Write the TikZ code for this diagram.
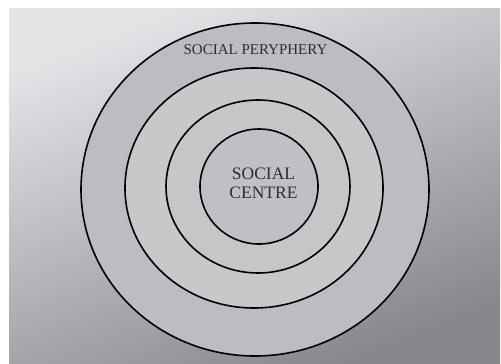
\documentclass[tikz,border=0pt]{standalone}
\usepackage{fontspec}
\setmainfont{Liberation Serif}
\definecolor{bglight}{HTML}{E3E4E6}
\definecolor{bgdark}{HTML}{87888D}
\definecolor{ringout}{HTML}{BCBDC0}
\definecolor{ringmid}{HTML}{C7C8CA}
\definecolor{ringin}{HTML}{C5C6C8}
\definecolor{core}{HTML}{BFC0C3}
\definecolor{labelgray}{HTML}{2E2E30}
\begin{document}
\begin{tikzpicture}[x=1pt,y=-1pt]
      \useasboundingbox (0,0) rectangle (501,364);
      %background
      \shade[top color=bglight,bottom color=bgdark,shading angle=22] (9,8) rectangle (500,364);
      %rings, outside to inside
      \draw[line width=1.6pt,fill=ringout] (255,189.5) ellipse (174 and 166.5);
      \draw[line width=1.6pt,fill=ringmid] (254,188) ellipse (129 and 120);
      \draw[line width=1.6pt,fill=ringin] (258,186.5) ellipse (92 and 86.5);
      \draw[line width=1.6pt,fill=core] (259,186.5) ellipse (59 and 57.5);
      %labels
      \node[text=labelgray,font=\fontsize{15}{18}\selectfont] (periphery) at (255.5,49.5) {SOCIAL PERYPHERY};
      \node[text=labelgray,align=center,font=\fontsize{17.5}{19}\selectfont] (centre) at (263.5,183.5) {SOCIAL\\CENTRE};
    \end{tikzpicture}
\end{document}
